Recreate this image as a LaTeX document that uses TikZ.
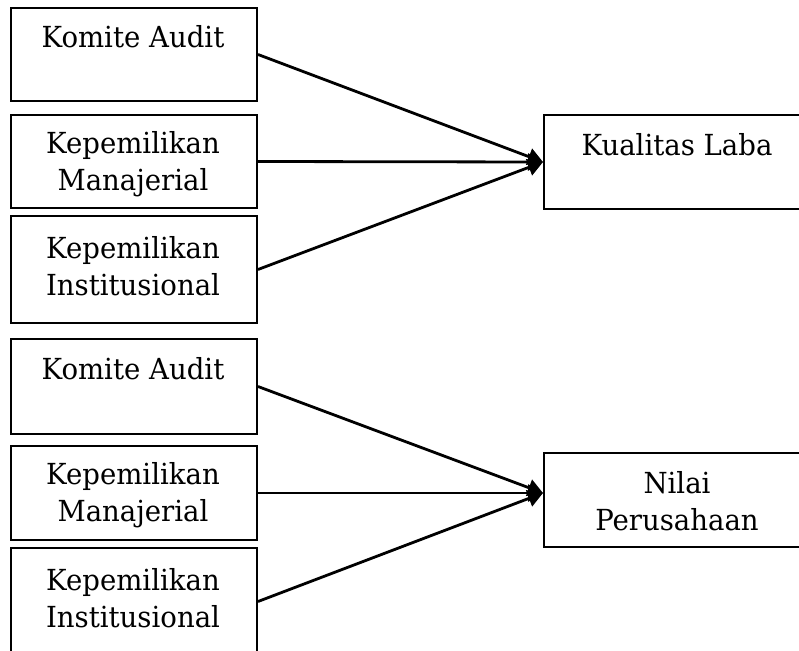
\documentclass[tikz,border=0pt]{standalone}
\usepackage{fontspec}
\setmainfont[FakeStretch=0.95]{DejaVu Serif}
\usetikzlibrary{arrows.meta}
\begin{document}
\begin{tikzpicture}[x=1pt,y=-1pt,
  box/.style={draw=black, line width=2pt, rectangle, inner sep=0pt, anchor=north west},
  lbl/.style={anchor=base, align=center, inner sep=0pt, font=\fontsize{29}{37}\selectfont},
  conn/.style={line width=2.8pt, -{Triangle[length=15pt,width=17pt]}}]
\fill[white] (0,0) rectangle (799,650);
\useasboundingbox (0,0) rectangle (799,650);
\clip (0,0) rectangle (799,650);
% left column, group 1
\node[box, minimum width=246pt, minimum height=93pt] (b1) at (10,7) {};
\node[box, minimum width=246pt, minimum height=93pt] (b2) at (10,114) {};
\node[box, minimum width=246pt, minimum height=107pt] (b3) at (10,215) {};
% left column, group 2
\node[box, minimum width=246pt, minimum height=95pt] (b4) at (10,338) {};
\node[box, minimum width=246pt, minimum height=94pt] (b5) at (10,445) {};
\node[box, minimum width=246pt, minimum height=107pt] (b6) at (10,547) {};
% right boxes
\node[box, minimum width=268pt, minimum height=94pt] (kl) at (543,114) {};
\node[box, minimum width=268pt, minimum height=94pt] (np) at (543,452) {};
% texts
\node[lbl] (t1) at (133,48) {Komite Audit};
\node[lbl] (t2) at (133,190) {Kepemilikan\\Manajerial};
\node[lbl] (t3) at (133,295) {Kepemilikan\\Institusional};
\node[lbl] (t4) at (133,379) {Komite Audit};
\node[lbl] (t5) at (133,521) {Kepemilikan\\Manajerial};
\node[lbl] (t6) at (133,627) {Kepemilikan\\Institusional};
\node[lbl] (tk) at (677,155) {Kualitas Laba};
\node[lbl] (tn) at (677,530) {Nilai\\Perusahaan};
% connectors
\coordinate (e2) at (543,493);
\draw[conn] (b1.east) -- (kl.west);
\draw[conn] (b2.east) -- (kl.west);
\draw[conn] (b3.east) -- (kl.west);
\draw[conn] (b4.east) -- (e2);
\draw[conn] (b5.east) -- (e2);
\draw[conn] (b6.east) -- (e2);
\end{tikzpicture}
\end{document}
